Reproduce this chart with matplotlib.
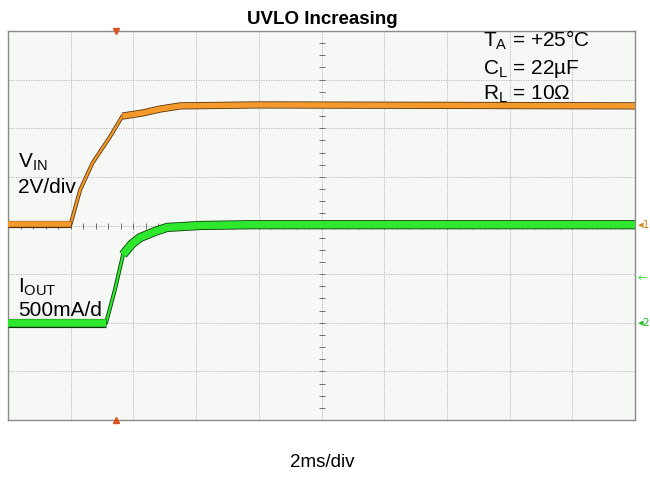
import matplotlib

matplotlib.use("Agg")
import matplotlib.pyplot as plt
import matplotlib.patheffects as pe
import numpy as np

plt.rcParams["font.family"] = ["Liberation Sans", "DejaVu Sans"]

# scope settings
TIME_PER_DIV = 2.0      # ms/div
VIN_PER_DIV = 2.0       # V/div
IOUT_PER_DIV = 500.0    # mA/div
IOUT_ZERO_DIV = -2.0    # channel 2 ground marker
TRIG_LEVEL_DIV = -1.08  # green trigger-level arrow

# traces (band centres)
vin_t = [0, 2.0, 2.3, 2.7, 3.25, 3.65, 4.3, 4.85, 5.5, 8.0, 20]
vin_v = [0.06, 0.06, 1.46, 2.58, 3.64, 4.50, 4.63, 4.79, 4.92, 4.96, 4.92]

iout_t = [0, 3.13, 3.41, 3.67, 3.95, 4.21, 4.70, 5.07, 6.12, 7.72, 20]
iout_ma = [0, 0, 340, 700, 810, 875, 940, 980, 1000, 1008, 1008]

trigger_t = 3.44

ORANGE = "#f39a2a"
ORANGE_EDGE = "#5a3410"
GREEN = "#2ee82e"
GREEN_EDGE = "#0b3a0b"

fig = plt.figure(figsize=(6.5, 4.79), dpi=100)
ax = fig.add_axes([8 / 650, 59 / 479, 627 / 650, 389 / 479])
ax.set_facecolor("#f6f8f6")
ax.set_xlim(0, 10 * TIME_PER_DIV)
ax.set_ylim(-4, 4)
ax.set_xticks([])
ax.set_yticks([])
for s in ax.spines.values():
    s.set_color("#8a8a8a")
    s.set_linewidth(1.0)

# graticule
for k in range(1, 10):
    ax.axvline(k * TIME_PER_DIV, color="#b0b0b0", lw=0.6, ls=(0, (1.5, 1.5)), zorder=1)
for k in range(-3, 4):
    ax.axhline(k, color="#b0b0b0", lw=0.6, ls=(0, (1.5, 1.5)), zorder=1)
mx = np.arange(0, 20.01, TIME_PER_DIV / 5)
ax.plot(mx, np.zeros_like(mx), ls="none", marker="|", ms=4, mew=0.7, color="#707070", zorder=1)
my = np.arange(-4, 4.01, 0.25)
ax.plot(np.full_like(my, 10.0), my, ls="none", marker="_", ms=4, mew=0.7, color="#707070", zorder=1)

# traces
vin = np.array(vin_v) / VIN_PER_DIV
iout = IOUT_ZERO_DIV + np.array(iout_ma) / IOUT_PER_DIV
vt = np.array(vin_t)
it = np.array(iout_t)


def trace(x, y, lw, color, edge):
    ax.plot(x, y, color=color, lw=lw, solid_capstyle="butt", zorder=3,
            path_effects=[pe.Stroke(linewidth=lw + 1.2, foreground=edge), pe.Normal()])


trace(vt, vin, 1.6, ORANGE, ORANGE_EDGE)
trace(vt[:2], vin[:2], 4.0, ORANGE, ORANGE_EDGE)
trace(vt[5:], vin[5:], 4.0, ORANGE, ORANGE_EDGE)

trace(it, iout, 1.6, GREEN, GREEN_EDGE)
trace(it[:2], iout[:2], 5.4, GREEN, GREEN_EDGE)
trace(it[3:], iout[3:], 5.4, GREEN, GREEN_EDGE)

# trigger markers
ax.plot([trigger_t], [4], marker="v", ms=4, color="#d9541e", clip_on=False, zorder=4)
ax.plot([trigger_t], [-4], marker="^", ms=4, color="#d9541e", clip_on=False, zorder=4)

# right-hand channel markers
ax.text(1.004, 0.5, "\u25c21", transform=ax.transAxes, fontsize=8, color="#d08a20",
        va="center", ha="left", family=["DejaVu Sans"], clip_on=False)
ax.text(1.004, (TRIG_LEVEL_DIV + 4) / 8, "\u2190", transform=ax.transAxes, fontsize=8,
        color=GREEN, va="center", ha="left", family=["DejaVu Sans"], clip_on=False)
ax.text(1.004, (IOUT_ZERO_DIV + 4) / 8, "\u25c22", transform=ax.transAxes, fontsize=8,
        color="#22bb22", va="center", ha="left", family=["DejaVu Sans"], clip_on=False)


# labels
def px(x, y):
    return x / 650, 1 - y / 479


fig.text(*px(322, 24), "UVLO Increasing", ha="center", va="baseline",
         fontsize=13.5, fontweight="bold")
fig.text(*px(322, 467), "2ms/div", ha="center", va="baseline", fontsize=13.5)

fig.text(*px(18, 168), r"$\mathregular{V_{IN}}$", ha="left", va="baseline", fontsize=15)
fig.text(*px(18, 193), "2V/div", ha="left", va="baseline", fontsize=15)
fig.text(*px(18, 293), r"$\mathregular{I_{OUT}}$", ha="left", va="baseline", fontsize=15)
fig.text(*px(18, 316), "500mA/d", ha="left", va="baseline", fontsize=15)

fig.text(*px(483, 47), r"$\mathregular{T_{A}}$ = +25" + "\u00b0C",
         ha="left", va="baseline", fontsize=15)
fig.text(*px(483, 74), r"$\mathregular{C_{L}}$ = 22" + "\u00b5F",
         ha="left", va="baseline", fontsize=15)
fig.text(*px(483, 100), r"$\mathregular{R_{L}}$ = 10" + "\u03a9",
         ha="left", va="baseline", fontsize=15)

fig.savefig("out.png", dpi=100)
